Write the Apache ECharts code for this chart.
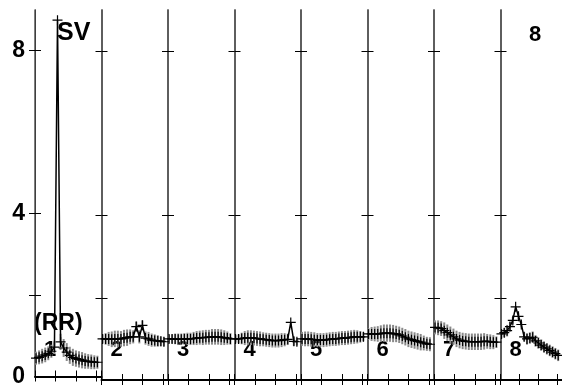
<!DOCTYPE html>
<html><head><meta charset="utf-8">
<script src="https://cdn.jsdelivr.net/npm/echarts@6/dist/echarts.min.js"></script>
<style>html,body{margin:0;padding:0;background:#fff}#c{width:562px;height:388px}</style>
</head><body><div id="c"></div>
<script>
// x positions within each panel (panel spans 0..65)
const xs = [1,4,7,10,13,16,19,22,25,28,31,34,37,40,43,46,49,52,55,58,61];
// series values per panel
const p1 = [0.45,0.47,0.50,0.53,0.57,0.62,0.72,8.75,0.85,0.70,0.60,0.52,0.47,0.44,0.42,0.40,0.38,0.37,0.36,0.35,0.35];
const p2 = [1.00,1.00,1.00,0.99,1.00,1.00,1.00,1.02,1.03,1.05,1.05,1.30,1.05,1.33,1.02,1.00,0.97,0.96,0.95,0.94,0.93];
const p3 = [1.00,1.00,1.00,0.99,0.99,1.00,1.00,1.00,1.01,1.02,1.03,1.03,1.04,1.04,1.05,1.05,1.05,1.04,1.03,1.02,1.00];
const p4 = [1.00,1.00,1.01,1.02,1.03,1.03,1.02,1.01,1.00,0.99,0.98,0.97,0.96,0.96,0.96,0.97,0.98,0.99,1.40,0.94,0.93];
const p5 = [1.00,1.00,1.00,0.99,0.98,0.97,0.97,0.97,0.98,0.99,1.00,1.00,1.01,1.02,1.02,1.03,1.04,1.05,1.05,1.05,1.05];
const p6 = [1.12,1.12,1.12,1.12,1.13,1.14,1.14,1.14,1.13,1.12,1.10,1.07,1.04,1.00,0.98,0.96,0.94,0.92,0.90,0.88,0.87];
const p7 = [1.28,1.27,1.25,1.20,1.15,1.10,1.05,1.00,0.97,0.95,0.94,0.93,0.93,0.93,0.93,0.93,0.94,0.94,0.93,0.92,0.92];
const p8 = [1.12,1.15,1.20,1.30,1.45,1.78,1.55,1.35,1.05,1.00,1.02,1.04,0.95,0.90,0.85,0.80,0.76,0.72,0.68,0.64,0.60];
// error half-widths (gray bars)
const e1 = [0.16,0.17,0.18,0.18,0.17,0.16,0.16,0.00,0.20,0.22,0.22,0.21,0.21,0.20,0.20,0.20,0.19,0.18,0.18,0.17,0.16];
const e2 = [0.11,0.14,0.17,0.19,0.20,0.20,0.19,0.20,0.20,0.18,0.16,0.12,0.16,0.12,0.16,0.17,0.16,0.15,0.14,0.12,0.11];
const e3 = [0.10,0.11,0.13,0.14,0.14,0.14,0.15,0.15,0.16,0.17,0.17,0.18,0.18,0.18,0.19,0.19,0.19,0.19,0.18,0.16,0.14];
const e4 = [0.09,0.11,0.14,0.17,0.18,0.18,0.18,0.18,0.18,0.17,0.17,0.17,0.17,0.17,0.17,0.17,0.16,0.14,0.00,0.11,0.09];
const e5 = [0.17,0.18,0.18,0.18,0.18,0.17,0.17,0.17,0.17,0.17,0.17,0.17,0.17,0.17,0.17,0.17,0.17,0.17,0.16,0.14,0.11];
const e6 = [0.14,0.17,0.18,0.19,0.20,0.21,0.21,0.21,0.21,0.20,0.20,0.20,0.20,0.20,0.20,0.20,0.20,0.20,0.18,0.17,0.17];
const e7 = [0.17,0.18,0.18,0.20,0.20,0.20,0.20,0.20,0.20,0.20,0.20,0.20,0.20,0.20,0.20,0.20,0.20,0.18,0.18,0.17,0.14];
const e8 = [0.11,0.11,0.14,0.11,0.08,0.00,0.07,0.07,0.11,0.14,0.14,0.14,0.14,0.14,0.14,0.14,0.14,0.14,0.14,0.14,0.14];
const panelValues = [p1,p2,p3,p4,p5,p6,p7,p8];
const panelErrors = [e1,e2,e3,e4,e5,e6,e7,e8];
const panelNames = ['1','2','3','4','5','6','7','8'];
const yLabelValues = [0,4,8];
const yTickValues = [2,4,8];

const L = 35, W = 66.5, T = 10, H = 370;
const FONT = '"Liberation Sans", Arial, sans-serif';
const cross = 'path://M0,4.4H10V5.6H0Z M4.4,0H5.6V10H4.4Z';

const grid = [], xAxis = [], yAxis = [], series = [], graphic = [];
for (let i = 0; i < 8; i++) {
  grid.push({left: L + i*W, top: T, width: W, height: H});
  const xa = {gridIndex:i, type:'value', min:0, max:65, interval:20,
    axisLabel:{show:false}, splitLine:{show:false},
    axisTick:{inside:true, length:6, lineStyle:{color:'#000', width:1}}};
  xAxis.push(Object.assign({}, xa, {position:'bottom', axisLine:{lineStyle:{color:'#000', width:2}}}));
  xAxis.push(Object.assign({}, xa, {position:'top', axisTick:{inside:true, length:5, lineStyle:{color:'#000', width:1}}, axisLine:{lineStyle:{color:'#000', width:1}}}));
  const ya = {gridIndex:i, type:'value', min:0, max:9, interval:1, splitLine:{show:false},
    axisTick:{inside:true, length:6, customValues: yTickValues, lineStyle:{color:'#000', width:1}}};
  yAxis.push(Object.assign({}, ya, {position:'left',
    axisLine:{show:true, lineStyle:{color: i===0 ? '#000' : '#555', width: i===0 ? 1 : 1.5}},
    axisLabel:{show: i===0, customValues: yLabelValues, margin:10, color:'#000', fontSize:23, fontWeight:'bold', fontFamily:FONT}}));
  yAxis.push(Object.assign({}, ya, {position:'right',
    axisLine:{show:true, lineStyle:{color:'#555', width:1.5}}, axisLabel:{show:false}}));

  const vals = panelValues[i], errs = panelErrors[i];
  series.push({type:'custom', xAxisIndex:2*i, yAxisIndex:2*i, z:2, silent:true,
    data: xs.map((x,k) => [x, vals[k]-errs[k], vals[k]+errs[k]]),
    encode:{x:0, y:[1,2]},
    renderItem: (params, api) => {
      const a = api.coord([api.value(0), api.value(1)]);
      const b = api.coord([api.value(0), api.value(2)]);
      return {type:'line', shape:{x1:a[0], y1:a[1], x2:b[0], y2:b[1]}, style:{stroke:'#8a8a8a', lineWidth:2}};
    }});
  series.push({type:'line', xAxisIndex:2*i, yAxisIndex:2*i, z:3,
    data: xs.map((x,k) => [x, vals[k]]),
    symbol: cross, symbolSize: 10, showSymbol:true,
    itemStyle:{color:'#000'}, lineStyle:{color:'#000', width:1.5}});

  graphic.push({type:'text', left: L + i*W + 9, top: 339,
    style:{text: panelNames[i], font:'bold 22px ' + FONT, fill:'#000'}});
}
graphic.push({type:'text', left: 57, top: 21, style:{text:'SV', font:'bold 25px ' + FONT, fill:'#000'}});
graphic.push({type:'text', left: 34, top: 312, style:{text:'(RR)', font:'bold 23px ' + FONT, fill:'#000'}});
graphic.push({type:'text', left: 529, top: 24, style:{text:'8', font:'bold 22px ' + FONT, fill:'#000'}});

const chart = echarts.init(document.getElementById('c'), null, {renderer:'canvas'});
chart.setOption({animation:false, grid, xAxis, yAxis, series, graphic});
</script>
</body></html>
